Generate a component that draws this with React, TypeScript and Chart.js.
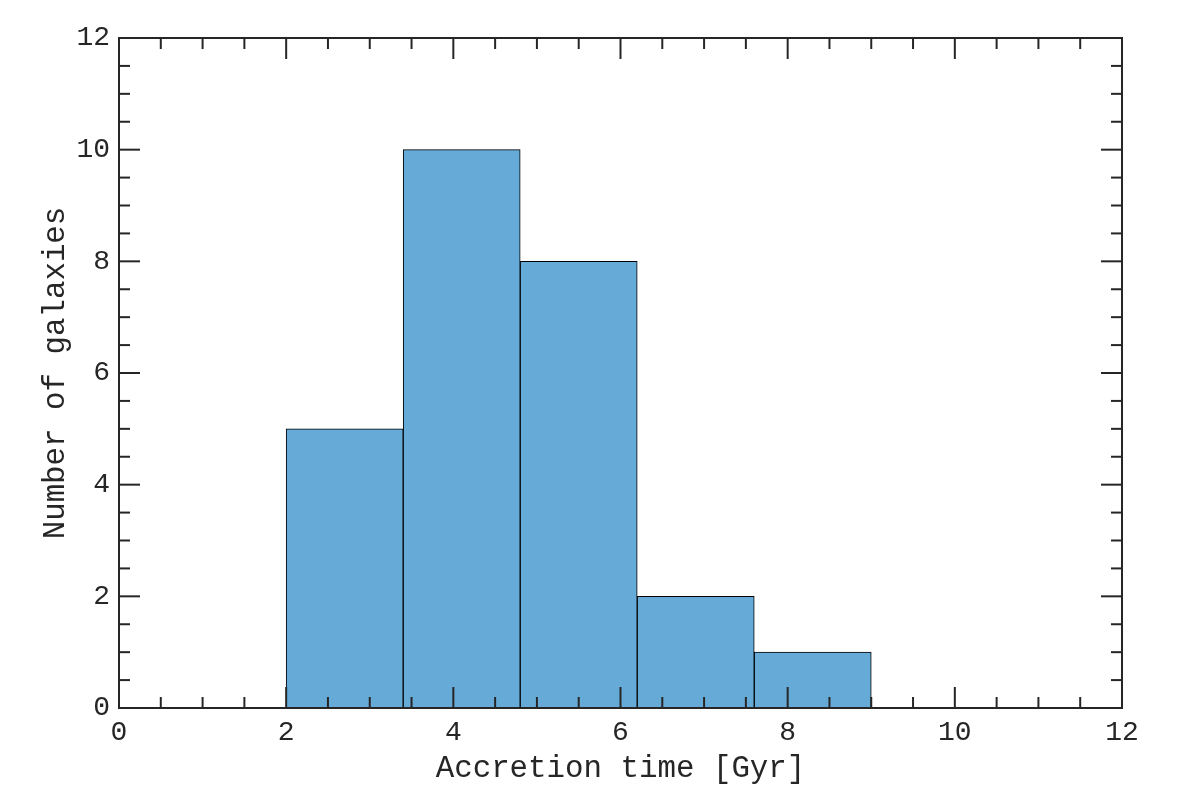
import React, { useEffect, useRef } from "react";
import { Chart, registerables } from "chart.js";

Chart.register(...registerables);

// Histogram bin edges (Gyr) and counts
const binEdges: number[] = [2.0, 3.4, 4.8, 6.2, 7.6, 9.0];
const counts: number[] = [5, 10, 8, 2, 1];

// Axis ranges / tick labels
const xTickValues: number[] = [0, 2, 4, 6, 8, 10, 12];
const yTickValues: number[] = [0, 2, 4, 6, 8, 10, 12];
const minorStep = 0.5;

const xTitle = "Accretion time [Gyr]";
const yTitle = "Number of galaxies";

const AXIS_COLOR = "#262626";
const BAR_COLOR = "#66AAD7";
const FONT = "'Liberation Mono', 'Courier New', monospace";

const framePlugin = {
  id: "matlabFrame",
  afterDatasetsDraw(chart: any) {
    const { ctx, chartArea, scales } = chart;
    const { left, right, top, bottom } = chartArea;
    const xs = scales.x;
    const ys = scales.y;
    ctx.save();
    ctx.strokeStyle = AXIS_COLOR;
    ctx.lineWidth = 2;
    ctx.lineCap = "butt";
    const line = (x1: number, y1: number, x2: number, y2: number) => {
      ctx.beginPath();
      ctx.moveTo(x1, y1);
      ctx.lineTo(x2, y2);
      ctx.stroke();
    };
    const xMin = xTickValues[0];
    const xMax = xTickValues[xTickValues.length - 1];
    const yMin = yTickValues[0];
    const yMax = yTickValues[yTickValues.length - 1];
    const xMajor = xTickValues[1] - xTickValues[0];
    const yMajor = yTickValues[1] - yTickValues[0];
    for (let v = xMin; v <= xMax + 1e-9; v += minorStep) {
      const px = xs.getPixelForValue(v);
      const r = v / xMajor;
      const major = Math.abs(r - Math.round(r)) < 1e-6;
      const len = major ? 21 : 11;
      line(px, bottom, px, bottom - len);
      line(px, top, px, top + len);
    }
    for (let v = yMin; v <= yMax + 1e-9; v += minorStep) {
      const py = ys.getPixelForValue(v);
      const r = v / yMajor;
      const major = Math.abs(r - Math.round(r)) < 1e-6;
      const len = major ? 21 : 11;
      line(left, py, left + len, py);
      line(right, py, right - len, py);
    }
    ctx.strokeRect(left, top, right - left, bottom - top);
    ctx.restore();
  },
};

export default function App() {
  const canvasRef = useRef<HTMLCanvasElement | null>(null);

  useEffect(() => {
    const canvas = canvasRef.current;
    if (!canvas) return;
    const data = counts.map((c, i) => ({
      x: (binEdges[i] + binEdges[i + 1]) / 2,
      y: c,
    }));
    const chart = new Chart(canvas, {
      type: "bar",
      data: {
        datasets: [
          {
            data,
            backgroundColor: BAR_COLOR,
            borderColor: "#000000",
            borderWidth: 1,
            barPercentage: 1,
            categoryPercentage: 1,
          },
        ],
      },
      options: {
        animation: false,
        responsive: true,
        maintainAspectRatio: false,
        layout: { padding: { top: 38, right: 59, left: 0, bottom: 0 } },
        plugins: {
          legend: { display: false },
          tooltip: { enabled: false },
        },
        scales: {
          x: {
            type: "linear",
            min: xTickValues[0],
            max: xTickValues[xTickValues.length - 1],
            offset: false,
            grid: { display: false, drawTicks: false, offset: false },
            border: { display: false },
            afterBuildTicks: (scale: any) => {
              scale.ticks = xTickValues.map((v) => ({ value: v }));
            },
            afterFit: (scale: any) => {
              scale.height = 79;
            },
            ticks: {
              color: AXIS_COLOR,
              font: { family: FONT, size: 28 },
              padding: 8,
              maxRotation: 0,
              autoSkip: false,
            },
            title: {
              display: true,
              text: xTitle,
              color: AXIS_COLOR,
              font: { family: FONT, size: 30.8, lineHeight: 1.2 },
              padding: { top: 0, bottom: 0 },
            },
          },
          y: {
            type: "linear",
            min: yTickValues[0],
            max: yTickValues[yTickValues.length - 1],
            grid: { display: false, drawTicks: false },
            border: { display: false },
            afterBuildTicks: (scale: any) => {
              scale.ticks = yTickValues.map((v) => ({ value: v }));
            },
            afterFit: (scale: any) => {
              scale.width = 119;
            },
            ticks: {
              color: AXIS_COLOR,
              font: { family: FONT, size: 28 },
              padding: 9,
              autoSkip: false,
            },
            title: {
              display: true,
              text: yTitle,
              color: AXIS_COLOR,
              font: { family: FONT, size: 30.8, lineHeight: 1.2 },
              padding: { top: 37, bottom: 0 },
            },
          },
        },
      },
      plugins: [framePlugin],
    });
    return () => chart.destroy();
  }, []);

  return (
    <div
      style={{
        position: "fixed",
        left: 0,
        top: 0,
        width: 1181,
        height: 787,
        background: "#ffffff",
      }}
    >
      <canvas ref={canvasRef} />
    </div>
  );
}
